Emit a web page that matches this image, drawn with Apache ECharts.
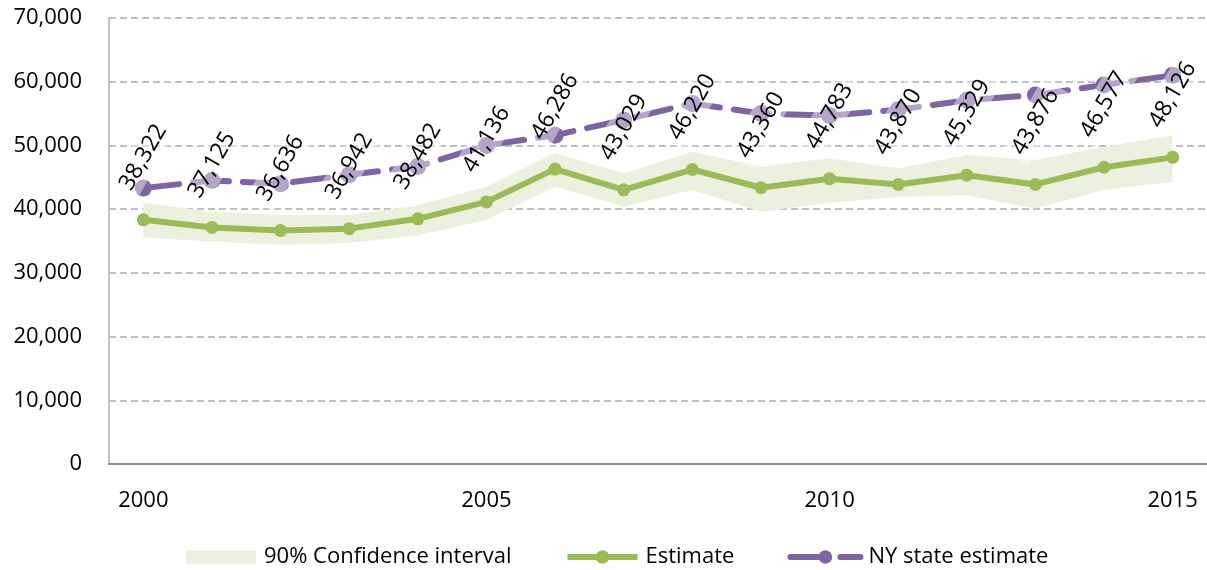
<!DOCTYPE html>
<html>
<head>
<meta charset="utf-8">
<title>Estimate with 90% confidence interval</title>
<script src="https://cdn.jsdelivr.net/npm/echarts@6/dist/echarts.min.js"></script>
<style>
    html, body { margin: 0; padding: 0; background: #fff; }
    #chart { width: 1207px; height: 570px; }
</style>
</head>
<body>
<div id="chart"></div>
<script>

// Chart data
// ------------------------------

var years = ['2000', '2001', '2002', '2003', '2004', '2005', '2006', '2007',
             '2008', '2009', '2010', '2011', '2012', '2013', '2014', '2015'];

var estimate = [38322, 37125, 36636, 36942, 38482, 41136, 46286, 43029,
                46220, 43360, 44783, 43870, 45329, 43876, 46577, 48126];

var ciLower = [35600, 34900, 34400, 34700, 35900, 38300, 43500, 40400,
               43000, 39600, 41000, 41900, 42200, 40100, 43000, 44300];

var ciUpper = [41000, 39600, 39100, 39100, 40600, 43500, 48800, 45600,
               49000, 46700, 48000, 46400, 48500, 47700, 49800, 51600];

var nyState = [43300, 44500, 44000, 45400, 46700, 50000, 51600, 54000,
               56600, 55000, 54700, 55600, 57100, 57900, 59500, 61000];

var yTicks = [0, 10000, 20000, 30000, 40000, 50000, 60000, 70000];


// Setup module
// ------------------------------

var EstimateChart = function() {

    var fontFamily = '"Open Sans", "Noto Sans", sans-serif';

    var withCommas = function(v) {
        return String(v).replace(/\B(?=(\d{3})+(?!\d))/g, ',');
    };

    var _estimateChart = function() {
        if (typeof echarts == 'undefined') {
            console.warn('Warning - echarts.min.js is not loaded.');
            return;
        }

        var chart_element = document.getElementById('chart');
        if (!chart_element) return;

        var chart = echarts.init(chart_element, null, { renderer: 'canvas' });

        // band height on top of the lower bound
        var ciSpan = ciUpper.map(function(v, i) { return v - ciLower[i]; });

        chart.setOption({
            animation: false,

            textStyle: {
                fontFamily: fontFamily,
                color: '#000'
            },

            grid: {
                left: 109,
                right: -5,
                top: 18,
                bottom: 106
            },

            legend: {
                left: 186,
                top: 546,
                padding: 0,
                itemWidth: 70,
                itemHeight: 17,
                itemGap: 53,
                symbolKeepAspect: true,
                lineStyle: { width: 6 },
                textStyle: {
                    fontFamily: fontFamily,
                    fontSize: 22,
                    color: '#000',
                    padding: [0, 0, 0, 3]
                },
                data: [
                    { name: '90% Confidence interval', icon: 'path://M0,0h67v13h-67z', itemStyle: { color: '#ebf1de' } },
                    { name: 'Estimate' },
                    { name: 'NY state estimate' }
                ]
            },

            xAxis: {
                type: 'category',
                data: years,
                boundaryGap: true,
                axisLine: {
                    lineStyle: { color: '#8c8c8c', width: 2 }
                },
                axisTick: { show: false },
                axisLabel: {
                    interval: 4,
                    margin: 26,
                    fontSize: 22,
                    color: '#000'
                }
            },

            yAxis: {
                type: 'value',
                min: yTicks[0],
                max: yTicks[yTicks.length - 1],
                interval: yTicks[1] - yTicks[0],
                axisLine: {
                    show: true,
                    lineStyle: { color: '#c0c0c0', width: 2 }
                },
                axisTick: { show: false },
                axisLabel: {
                    margin: 27,
                    fontSize: 22,
                    color: '#000',
                    formatter: withCommas
                },
                splitLine: {
                    show: true,
                    lineStyle: { color: '#c0c0c0', width: 2, type: [7, 4] }
                }
            },

            series: [
                {
                    name: 'ci-lower',
                    type: 'line',
                    stack: 'ci',
                    z: 1,
                    silent: true,
                    symbol: 'none',
                    lineStyle: { opacity: 0 },
                    data: ciLower
                },
                {
                    name: '90% Confidence interval',
                    type: 'line',
                    stack: 'ci',
                    z: 1,
                    silent: true,
                    symbol: 'none',
                    itemStyle: { color: '#ebf1de' },
                    lineStyle: { opacity: 0 },
                    areaStyle: { color: '#ebf1de', opacity: 1 },
                    data: ciSpan
                },
                {
                    name: 'NY state estimate',
                    type: 'line',
                    z: 2,
                    symbol: 'circle',
                    symbolSize: 17,
                    itemStyle: { color: '#8064a2' },
                    lineStyle: { color: '#8064a2', width: 6, type: [36, 14], cap: 'round' },
                    data: nyState
                },
                {
                    name: 'Estimate',
                    type: 'line',
                    z: 5,
                    symbol: 'circle',
                    symbolSize: 13,
                    itemStyle: { color: '#9bbb59' },
                    lineStyle: { color: '#9bbb59', width: 6 },
                    label: {
                        show: true,
                        position: 'top',
                        distance: 56,
                        rotate: 60,
                        align: 'center',
                        verticalAlign: 'middle',
                        fontSize: 23,
                        color: '#000',
                        backgroundColor: 'rgba(255,255,255,0.42)',
                        padding: [4, 6],
                        formatter: function(p) { return withCommas(p.value); }
                    },
                    data: estimate
                }
            ]
        });
    };

    return {
        init: function() {
            _estimateChart();
        }
    };
}();

document.addEventListener('DOMContentLoaded', function() {
    EstimateChart.init();
});
</script>
</body>
</html>
